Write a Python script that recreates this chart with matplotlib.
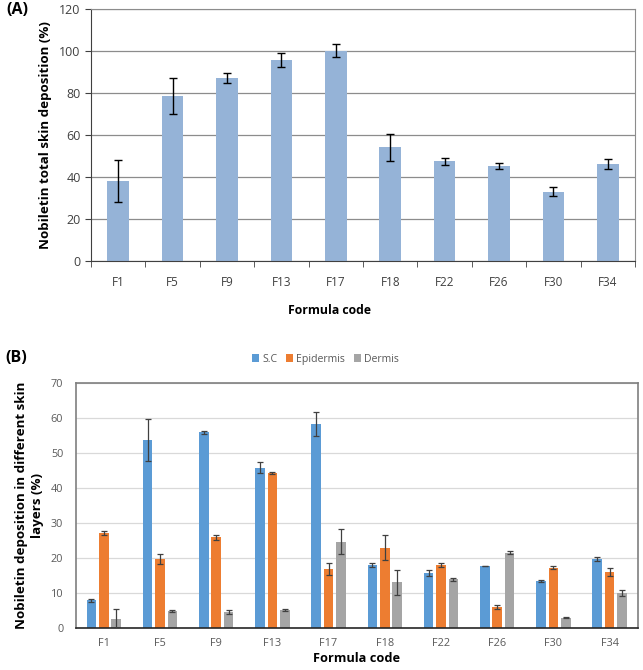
import matplotlib
matplotlib.use("Agg")
import matplotlib.pyplot as plt
import numpy as np

plt.rcParams['font.family'] = ['Open Sans', 'DejaVu Sans']

formulas = ["F1", "F5", "F9", "F13", "F17", "F18", "F22", "F26", "F30", "F34"]
total_dep = [38, 78.5, 87, 95.5, 100, 54, 47.3, 45, 33, 46]
total_err = [10, 8.5, 2.5, 3.5, 3, 6.5, 1.5, 1.5, 2, 2.5]

sc_vals = [8, 53.7, 55.9, 45.8, 58.2, 18, 15.7, 17.8, 13.5, 19.8]
sc_err = [0.5, 6, 0.4, 1.5, 3.5, 0.5, 0.8, 0.1, 0.2, 0.5]
epi_vals = [27.1, 19.8, 26, 44.3, 17, 23, 18, 6.1, 17.3, 16.1]
epi_err = [0.5, 1.5, 0.7, 0.2, 1.7, 3.5, 0.5, 0.5, 0.5, 1.2]
der_vals = [2.6, 4.9, 4.6, 5.1, 24.7, 13.1, 14, 21.6, 3, 10]
der_err = [2.8, 0.2, 0.6, 0.3, 3.5, 3.5, 0.4, 0.3, 0.1, 0.8]
layer_names = ["S.C", "Epidermis", "Dermis"]

fig = plt.figure(figsize=(6.43, 6.70), dpi=100)

# ---- Panel A ----
axA = fig.add_axes([0.1415, 0.6104, 0.8461, 0.3769])
x = np.arange(len(formulas))
axA.bar(x, total_dep, width=0.4, color="#95B3D7", zorder=2)
axA.errorbar(x, total_dep, yerr=total_err, fmt="none", ecolor="black",
             elinewidth=1, capsize=3.2, capthick=1, zorder=3)
axA.set_xlim(-0.5, len(formulas) - 0.5)
axA.set_ylim(0, 120)
axA.set_yticks(np.arange(0, 121, 20))
axA.yaxis.grid(True, color="#8C8C8C", linewidth=0.9, zorder=0)
axA.set_axisbelow(True)
axA.set_xticks(x)
axA.set_xticklabels(formulas)
axA.set_xticks(np.arange(-0.5, len(formulas)), minor=True)
axA.tick_params(axis="x", which="major", length=0, pad=11, labelsize=8.5, labelcolor="#404040")
axA.tick_params(axis="x", which="minor", length=4, direction="out", color="#404040")
axA.tick_params(axis="y", length=4, direction="out", labelsize=9, labelcolor="#404040", color="#404040")
for s in ["top", "right"]:
    axA.spines[s].set_color("#8C8C8C")
for s in ["left", "bottom"]:
    axA.spines[s].set_color("#404040")
axA.set_ylabel("Nobiletin total skin deposition (%)", fontweight="bold", fontsize=9.6, labelpad=5)
axA.set_xlabel("Formula code", fontweight="bold", fontsize=8.8, labelpad=10)
axA.xaxis.set_label_coords((329 - 91) / 544, -0.17)
fig.text(0.010, 0.997, "(A)", fontweight="bold", fontsize=11.5, va="top", ha="left")

# ---- Panel B ----
axB = fig.add_axes([0.1177, 0.0622, 0.8741, 0.3666])
colors = ["#5B9BD5", "#ED7D31", "#A5A5A5"]
vals = [sc_vals, epi_vals, der_vals]
errs = [sc_err, epi_err, der_err]
offsets = [-0.22, 0.0, 0.22]
for v, e, c, o, n in zip(vals, errs, colors, offsets, layer_names):
    axB.bar(x + o, v, width=0.17, color=c, label=n, zorder=2)
    axB.errorbar(x + o, v, yerr=e, fmt="none", ecolor="#404040",
                 elinewidth=0.9, capsize=2.5, capthick=0.9, zorder=3)
axB.set_xlim(-0.5, len(formulas) - 0.5)
axB.set_ylim(0, 70)
axB.set_yticks(np.arange(0, 71, 10))
axB.yaxis.grid(True, color="#D9D9D9", linewidth=0.9, zorder=0)
axB.set_axisbelow(True)
axB.set_xticks(x)
axB.set_xticklabels(formulas)
axB.tick_params(axis="both", length=0, labelsize=7.8, labelcolor="#595959")
axB.tick_params(axis="x", pad=7)
axB.tick_params(axis="y", pad=9)
for s in ["top", "right", "left"]:
    axB.spines[s].set_color("#7F7F7F")
    axB.spines[s].set_linewidth(1.2)
axB.spines["bottom"].set_color("#262626")
axB.spines["bottom"].set_linewidth(1.2)
axB.set_ylabel("Nobiletin deposition in different skin\nlayers (%)", fontweight="bold",
               fontsize=9.6, labelpad=5, linespacing=1.25)
axB.set_xlabel("Formula code", fontweight="bold", fontsize=9.2, labelpad=2)
axB.legend(loc="lower center", bbox_to_anchor=(0.444, 1.035), ncol=3, frameon=False,
           fontsize=7.6, handlelength=0.7, handleheight=0.7, handletextpad=0.3,
           columnspacing=0.8, labelcolor="#595959")
fig.text(0.008, 0.478, "(B)", fontweight="bold", fontsize=11.5, va="top", ha="left")

fig.savefig("out.png", dpi=100)
